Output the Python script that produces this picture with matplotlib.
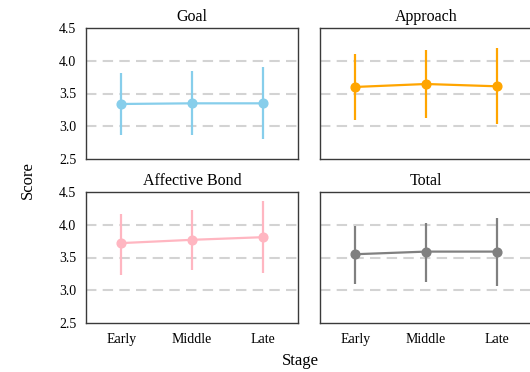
import numpy as np
import matplotlib.pyplot as plt

plt.rcParams['font.family'] = ['Liberation Serif', 'DejaVu Serif']

# Data
stages = ['Early', 'Middle', 'Late']
panels = ['Goal', 'Approach', 'Affective Bond', 'Total']
colors = ['#87CEEB', '#FFA500', '#FFB6C1', '#808080']

goal_mean = [3.34, 3.35, 3.35]
goal_lo = [2.87, 2.87, 2.80]
goal_hi = [3.81, 3.84, 3.90]

appr_mean = [3.60, 3.645, 3.61]
appr_lo = [3.10, 3.13, 3.03]
appr_hi = [4.10, 4.16, 4.19]

bond_mean = [3.72, 3.77, 3.81]
bond_lo = [3.24, 3.31, 3.27]
bond_hi = [4.17, 4.23, 4.36]

total_mean = [3.55, 3.59, 3.59]
total_lo = [3.10, 3.13, 3.06]
total_hi = [3.98, 4.03, 4.10]

means = [goal_mean, appr_mean, bond_mean, total_mean]
los = [goal_lo, appr_lo, bond_lo, total_lo]
his = [goal_hi, appr_hi, bond_hi, total_hi]

fig = plt.figure(figsize=(5.3, 3.72), dpi=100)

# axes positions (left, bottom, width, height)
lefts = [86/530, 320/530]
width = 212/530
bottoms = [1 - 159/372, 1 - 323/372]
height = 131/372

x = np.arange(len(stages))
for i, name in enumerate(panels):
    r, c = divmod(i, 2)
    ax = fig.add_axes([lefts[c], bottoms[r], width, height])
    ax.set_ylim(2.5, 4.5)
    ax.set_xlim(-0.5, 2.5)
    ax.set_yticks([2.5, 3.0, 3.5, 4.0, 4.5])
    for g in [3.0, 3.5, 4.0]:
        ax.axhline(g, color='#d3d3d3', ls='--', lw=1.5, dashes=(5, 3), zorder=0)
    m = np.array(means[i])
    err = [m - np.array(los[i]), np.array(his[i]) - m]
    ax.errorbar(x, m, yerr=err, color=colors[i], marker='o', ms=6.3, lw=1.6,
                elinewidth=1.6, capsize=0)
    ax.set_title(name, fontsize=11.5, pad=5)
    ax.tick_params(length=0, labelsize=10, pad=7)
    for s in ax.spines.values():
        s.set_color('#3a3a3a')
        s.set_linewidth(1.0)
    if c == 1:
        ax.set_yticklabels([])
    if r == 0:
        ax.set_xticks([])
    else:
        ax.set_xticks(x)
        ax.set_xticklabels(stages)

fig.text(28/530, 1 - 180/372, 'Score', rotation=90, ha='center', va='center', fontsize=12)
fig.text(300/530, 1 - 361/372, 'Stage', ha='center', va='center', fontsize=12)

fig.savefig('out.png', dpi=100)
